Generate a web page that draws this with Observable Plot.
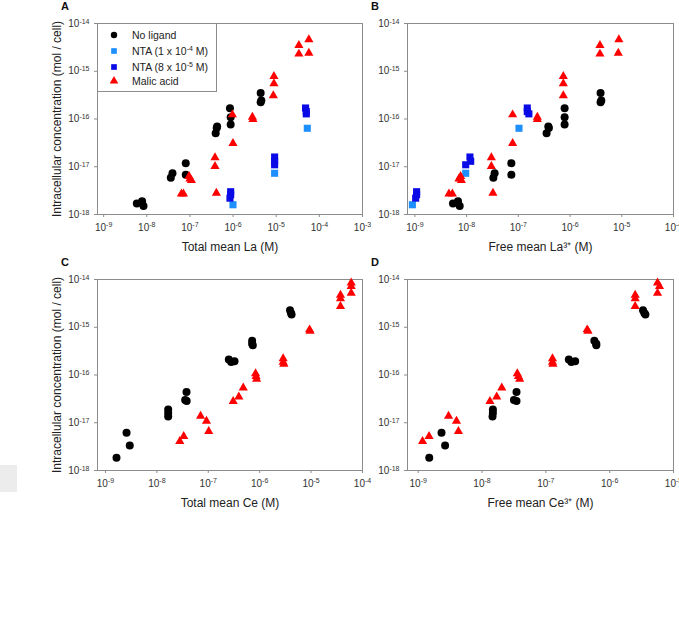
<!DOCTYPE html>
<html>
<head>
<meta charset="utf-8">
<script src="https://cdn.jsdelivr.net/npm/d3@7"></script>
<script src="https://cdn.jsdelivr.net/npm/@observablehq/plot@0.6"></script>
<style>
  html, body { margin: 0; padding: 0; background: #fff; }
  #fig { position: relative; width: 679px; height: 634px; overflow: hidden; background: #fff;
         font-family: "Liberation Sans", Arial, sans-serif; color: #222; }
  .panel { position: absolute; }
  .panel svg { overflow: visible; background: transparent; }
  #legend { position: absolute; left: 97px; top: 23px; width: 120px; height: 69px;
            border: 1px solid #8c8c8c; background: #fff; box-sizing: border-box; }
  .entry { position: absolute; left: 0; height: 14px; line-height: 14px; font-size: 10.5px; white-space: nowrap; }
  .entry svg { position: absolute; left: 10px; top: 1px; }
  .entry span { position: absolute; left: 34px; top: 0; }
  .entry sup { font-size: 7px; vertical-align: 4px; line-height: 0; }
  #tab { position: absolute; left: 0; top: 465px; width: 17px; height: 27px; background: #ececec; }
</style>
</head>
<body>
<div id="fig">
  <div id="tab"></div>
</div>
<script>
// Intracellular La (mol/cell) against total La (M) and free La3+ (M)
const laNoLigandCell  = [1.7e-18, 1.9e-18, 1.5e-18, 5.9e-18, 7.3e-18, 1.19e-17, 6.8e-18, 5.0e-17, 6.5e-17, 7.0e-17, 1.68e-16, 1.09e-16, 7.7e-17, 3.5e-16, 2.25e-16, 2.45e-16];
const laNoLigandTotal = [5.87e-9, 7.78e-9, 8.4e-9, 3.6e-8, 3.94e-8, 8.0e-8, 8.0e-8, 3.95e-7, 4.17e-7, 4.27e-7, 8.47e-7, 8.79e-7, 8.79e-7, 4.36e-6, 4.36e-6, 4.52e-6];
const laNoLigandFree  = [5.45e-9, 6.81e-9, 7.35e-9, 3.29e-8, 3.48e-8, 7.33e-8, 7.33e-8, 3.52e-7, 3.9e-7, 3.8e-7, 7.85e-7, 7.85e-7, 7.85e-7, 3.89e-6, 3.89e-6, 4.02e-6];

const laNta1Cell  = [1.6e-18, 7.3e-18, 6.4e-17];
const laNta1Total = [9.95e-7, 9.18e-6, 5.25e-5];
const laNta1Free  = [8.95e-10, 9.6e-9, 1.03e-7];

const laNta2Cell  = [3.0e-18, 2.6e-18, 2.2e-18, 1.6e-17, 1.3e-17, 1.1e-17, 1.7e-16, 1.43e-16, 1.28e-16];
const laNta2Total = [8.79e-7, 8.79e-7, 8.47e-7, 9.18e-6, 9.18e-6, 9.18e-6, 4.79e-5, 4.98e-5, 4.98e-5];
const laNta2Free  = [1.08e-9, 1.08e-9, 1.035e-9, 1.16e-8, 1.2e-8, 9.6e-9, 1.49e-7, 1.49e-7, 1.6e-7];

const laMalicCell  = [2.7e-18, 2.7e-18, 6.3e-18, 5.6e-18, 5.2e-18, 1.55e-17, 1.02e-17, 2.8e-18, 1.23e-16, 3.1e-17, 1.1e-16, 9.8e-17, 7.8e-16, 5.5e-16, 3.1e-16, 3.5e-15, 2.3e-15, 4.6e-15, 2.4e-15];
const laMalicTotal = [6.35e-8, 7.08e-8, 9.53e-8, 1.0e-7, 1.08e-7, 3.81e-7, 3.81e-7, 4.1e-7, 9.64e-7, 9.95e-7, 2.8e-6, 2.89e-6, 8.85e-6, 8.85e-6, 8.57e-6, 3.35e-5, 3.35e-5, 5.71e-5, 5.71e-5];
const laMalicFree  = [4.56e-9, 5.31e-9, 7.67e-9, 7.11e-9, 7.92e-9, 3.01e-8, 3.01e-8, 3.23e-8, 7.76e-8, 7.76e-8, 2.33e-7, 2.33e-7, 7.41e-7, 7.41e-7, 7.41e-7, 3.78e-6, 3.78e-6, 8.79e-6, 8.55e-6];

// Intracellular Ce (mol/cell) against total Ce (M) and free Ce3+ (M)
const ceNoLigandCell  = [1.85e-18, 6.2e-18, 3.35e-18, 1.9e-17, 1.6e-17, 1.35e-17, 4.4e-17, 3.0e-17, 2.85e-17, 2.1e-16, 1.87e-16, 1.95e-16, 5.2e-16, 4.5e-16, 4.2e-16, 2.27e-15, 2.0e-15, 1.86e-15];
const ceNoLigandTotal = [1.64e-9, 2.57e-9, 2.97e-9, 1.66e-8, 1.66e-8, 1.66e-8, 3.77e-8, 3.55e-8, 3.8e-8, 2.51e-7, 2.79e-7, 3.24e-7, 7.14e-7, 7.14e-7, 7.33e-7, 3.89e-6, 4.07e-6, 4.17e-6];
const ceNoLigandFree  = [1.49e-9, 2.32e-9, 2.64e-9, 1.48e-8, 1.48e-8, 1.46e-8, 3.47e-8, 3.16e-8, 3.47e-8, 2.29e-7, 2.51e-7, 2.88e-7, 5.75e-7, 6.17e-7, 6.17e-7, 3.33e-6, 3.49e-6, 3.63e-6];

const ceMalicCell  = [4.1e-18, 5.2e-18, 1.38e-17, 1.08e-17, 6.6e-18, 2.8e-17, 3.5e-17, 5.4e-17, 1.07e-16, 9.4e-17, 8.2e-17, 2.2e-16, 1.86e-16, 1.7e-16, 8.9e-16, 8.3e-16, 4.7e-15, 4.0e-15, 2.75e-15, 8.5e-15, 7.2e-15, 5.2e-15];
const ceMalicTotal = [2.79e-8, 3.33e-8, 7.08e-8, 9.23e-8, 1.02e-7, 3.05e-7, 3.93e-7, 4.79e-7, 8.32e-7, 8.51e-7, 8.71e-7, 2.86e-6, 2.86e-6, 2.95e-6, 9.33e-6, 9.55e-6, 3.73e-5, 3.73e-5, 3.73e-5, 6.03e-5, 6.03e-5, 6.03e-5];
const ceMalicFree  = [1.17e-9, 1.48e-9, 2.99e-9, 3.98e-9, 4.27e-9, 1.33e-8, 1.7e-8, 2.04e-8, 3.57e-8, 3.72e-8, 3.89e-8, 1.27e-7, 1.27e-7, 1.29e-7, 4.44e-7, 4.57e-7, 2.51e-6, 2.51e-6, 2.51e-6, 5.62e-6, 6.03e-6, 5.62e-6];

// Series names, markers and colours
const seriesNames   = ["No ligand", "NTA (1 x 10<sup>-4</sup> M)", "NTA (8 x 10<sup>-5</sup> M)", "Malic acid"];
const seriesSymbols = ["circle", "square", "square", "triangle"];
const seriesColors  = ["#000000", "#1e8fff", "#0a0ae6", "#ff0000"];
const seriesRadius  = [4, 4, 4, 3.4];

// Tick values
const yTicks  = [1e-18, 1e-17, 1e-16, 1e-15, 1e-14];
const xTicksA = [1e-9, 1e-8, 1e-7, 1e-6, 1e-5, 1e-4, 1e-3];
const xTicksB = [1e-9, 1e-8, 1e-7, 1e-6, 1e-5, 1e-4];
const xTicksC = [1e-9, 1e-8, 1e-7, 1e-6, 1e-5, 1e-4];
const xTicksD = [1e-9, 1e-8, 1e-7, 1e-6, 1e-5];

const yLabel = "Intracellular concentration (mol / cell)";

function rows(s, cell, total, free) {
  return cell.map((c, i) => ({s, cell: c, total: total[i], free: free[i]}));
}
const laRows = [
  ...rows(0, laNoLigandCell, laNoLigandTotal, laNoLigandFree),
  ...rows(1, laNta1Cell, laNta1Total, laNta1Free),
  ...rows(2, laNta2Cell, laNta2Total, laNta2Free),
  ...rows(3, laMalicCell, laMalicTotal, laMalicFree)
];
const ceRows = [
  ...rows(0, ceNoLigandCell, ceNoLigandTotal, ceNoLigandFree),
  ...rows(3, ceMalicCell, ceMalicTotal, ceMalicFree)
];

// Tick labels read "10^n"; the exponent is raised into a superscript after rendering
const pow10 = d => "10^" + Math.round(Math.log10(d));

function raiseExponents(svg) {
  d3.select(svg).selectAll("text").each(function () {
    const t = this.textContent;
    const m = /^10\^(-?\d+)$/.exec(t);
    if (!m) return;
    const el = d3.select(this);
    el.text("10");
    el.append("tspan").attr("dy", "-0.45em").attr("font-size", "7px").text(m[1]);
  });
}

const grey = "#8c8c8c";

function panel({data, key, xDomain, xTicks, xLabel, letter, withYLabel, left, top, width, height, mLeft, mRight, mTop, mBottom}) {
  const dotMarks = [0, 1, 2, 3].map(s => Plot.dot(data.filter(d => d.s === s), {
    x: key, y: "cell", symbol: seriesSymbols[s], fill: seriesColors[s], r: seriesRadius[s]
  }));
  const chart = Plot.plot({
    width, height,
    marginLeft: mLeft, marginRight: mRight, marginTop: mTop, marginBottom: mBottom,
    x: {type: "log", domain: xDomain},
    y: {type: "log", domain: [1e-18, 1e-14]},
    style: {fontFamily: "'Liberation Sans', Arial, sans-serif", fontSize: "10px", background: "transparent", color: "#222"},
    marks: [
      Plot.frame({stroke: grey}),
      Plot.axisX(xTicks, {anchor: "bottom", tickSize: 3, tickPadding: 6, tickFormat: pow10, label: null, stroke: grey, fill: "#333", fontSize: 10}),
      Plot.axisY(yTicks, {anchor: "left", tickSize: 3, tickPadding: 5, tickFormat: pow10, label: null, stroke: grey, fill: "#333", fontSize: 10}),
      ...dotMarks,
      Plot.text([xLabel], {text: d => d, frameAnchor: "bottom", dy: 33, textAnchor: "middle", lineAnchor: "middle", fontSize: 12, fill: "#222"}),
      withYLabel ? Plot.text([yLabel], {text: d => d, frameAnchor: "left", dx: -40, rotate: -90, textAnchor: "middle", lineAnchor: "middle", fontSize: 12, fill: "#222"}) : null,
      Plot.text([letter], {text: d => d, frameAnchor: "top-left", dx: -32.5, dy: -17, textAnchor: "middle", lineAnchor: "middle", fontSize: 11, fontWeight: "bold", fill: "#111"})
    ]
  });
  raiseExponents(chart);
  const holder = document.createElement("div");
  holder.className = "panel";
  holder.style.left = left + "px";
  holder.style.top = top + "px";
  holder.appendChild(chart);
  document.getElementById("fig").appendChild(holder);
}

panel({data: laRows, key: "total", xDomain: [7.2e-10, 1e-3], xTicks: xTicksA, xLabel: "Total mean La (M)", letter: "A", withYLabel: true,
       left: 0, top: 0, width: 370, height: 262, mLeft: 97, mRight: 8, mTop: 23, mBottom: 48});
panel({data: laRows, key: "free", xDomain: [7.2e-10, 1e-4], xTicks: xTicksB, xLabel: "Free mean La³⁺ (M)", letter: "B", withYLabel: false,
       left: 340, top: 0, width: 339, height: 262, mLeft: 67, mRight: 6, mTop: 23, mBottom: 48});
panel({data: ceRows, key: "total", xDomain: [7.0e-10, 1e-4], xTicks: xTicksC, xLabel: "Total mean Ce (M)", letter: "C", withYLabel: true,
       left: 0, top: 240, width: 370, height: 280, mLeft: 97, mRight: 8, mTop: 39, mBottom: 50});
panel({data: ceRows, key: "free", xDomain: [6.8e-10, 1e-5], xTicks: xTicksD, xLabel: "Free mean Ce³⁺ (M)", letter: "D", withYLabel: false,
       left: 340, top: 240, width: 339, height: 280, mLeft: 67, mRight: 6, mTop: 39, mBottom: 50});

// Legend box in panel A
const legendSymbols = {circle: d3.symbolCircle, square: d3.symbolSquare, triangle: d3.symbolTriangle};
const legend = document.createElement("div");
legend.id = "legend";
const entryTops = [4, 20, 36, 50];
seriesNames.forEach((html, s) => {
  const e = document.createElement("div");
  e.className = "entry";
  e.style.top = entryTops[s] + "px";
  const path = d3.symbol(legendSymbols[seriesSymbols[s]], Math.PI * 3.2 * 3.2)();
  e.innerHTML = `<svg width="12" height="12" viewBox="-6 -6 12 12"><path d="${path}" fill="${seriesColors[s]}"/></svg><span>${html}</span>`;
  legend.appendChild(e);
});
document.getElementById("fig").appendChild(legend);
</script>
</body>
</html>
